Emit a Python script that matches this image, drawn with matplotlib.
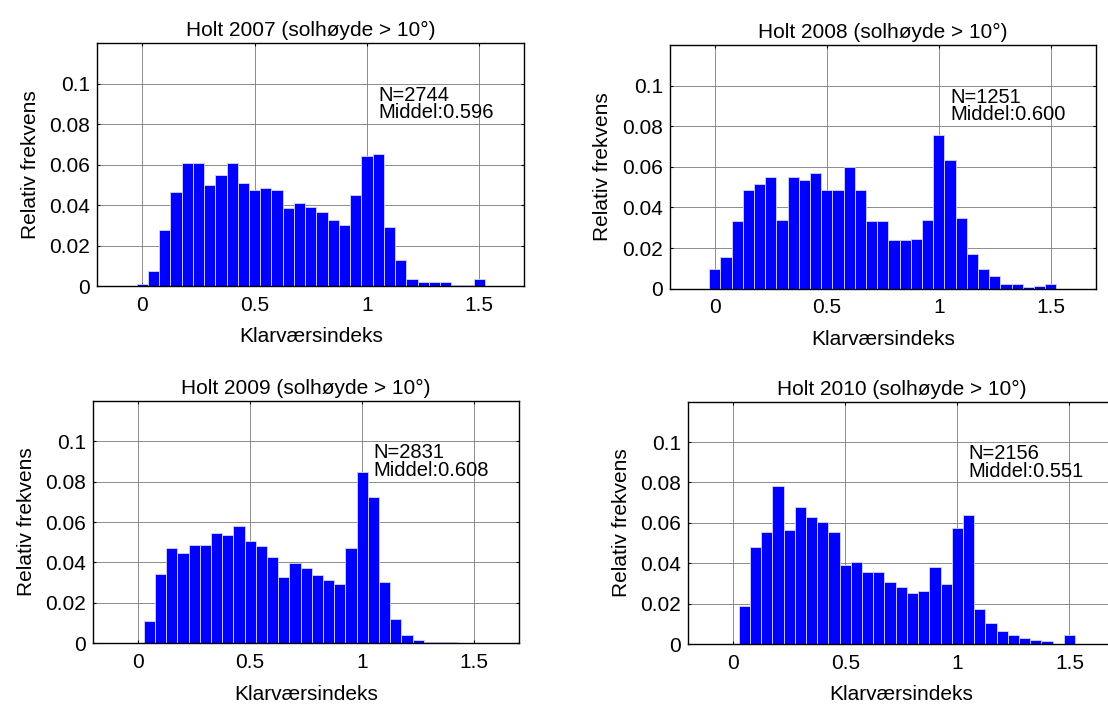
import matplotlib
matplotlib.use("Agg")
import matplotlib.pyplot as plt

plt.rcParams['font.family'] = ['Liberation Sans', 'DejaVu Sans']

klarhet = [0.00, 0.05, 0.10, 0.15, 0.20, 0.25, 0.30, 0.35, 0.40, 0.45,
           0.50, 0.55, 0.60, 0.65, 0.70, 0.75, 0.80, 0.85, 0.90, 0.95,
           1.00, 1.05, 1.10, 1.15, 1.20, 1.25, 1.30, 1.35, 1.40, 1.45, 1.50]

frek_2007 = [0.0010, 0.0075, 0.0275, 0.0467, 0.0608, 0.0608, 0.0500, 0.0551, 0.0608, 0.0508,
             0.0475, 0.0484, 0.0475, 0.0384, 0.0408, 0.0392, 0.0367, 0.0326, 0.0300, 0.0451,
             0.0643, 0.0651, 0.0292, 0.0128, 0.0036, 0.0018, 0.0018, 0.0018, 0.0007, 0.0007, 0.0036]

frek_2008 = [0.0099, 0.0156, 0.0331, 0.0484, 0.0515, 0.0549, 0.0339, 0.0549, 0.0533, 0.0569,
             0.0484, 0.0484, 0.0599, 0.0484, 0.0331, 0.0331, 0.0238, 0.0238, 0.0247, 0.0339,
             0.0757, 0.0632, 0.0347, 0.0171, 0.0099, 0.0062, 0.0021, 0.0021, 0.0007, 0.0015, 0.0021]

frek_2009 = [0.0000, 0.0111, 0.0345, 0.0471, 0.0446, 0.0488, 0.0488, 0.0545, 0.0537, 0.0580,
             0.0504, 0.0479, 0.0428, 0.0327, 0.0395, 0.0370, 0.0337, 0.0311, 0.0294, 0.0471,
             0.0848, 0.0722, 0.0302, 0.0119, 0.0043, 0.0017, 0.0004, 0.0004, 0.0004, 0.0000, 0.0000]

frek_2010 = [0.0000, 0.0188, 0.0481, 0.0555, 0.0781, 0.0563, 0.0680, 0.0631, 0.0606, 0.0555,
             0.0389, 0.0405, 0.0356, 0.0356, 0.0305, 0.0280, 0.0255, 0.0264, 0.0381, 0.0297,
             0.0573, 0.0639, 0.0171, 0.0104, 0.0063, 0.0046, 0.0030, 0.0021, 0.0013, 0.0000, 0.0046]

titler = ["Holt 2007 (solhøyde > 10°)", "Holt 2008 (solhøyde > 10°)",
          "Holt 2009 (solhøyde > 10°)", "Holt 2010 (solhøyde > 10°)"]
antall = [2744, 1251, 2831, 2156]
middel = [0.596, 0.600, 0.608, 0.551]
serier = [frek_2007, frek_2008, frek_2009, frek_2010]

x_ticks = [0, 0.5, 1, 1.5]
x_ticklabels = ["0", "0.5", "1", "1.5"]
y_ticks = [0, 0.02, 0.04, 0.06, 0.08, 0.1]
y_ticklabels = ["0", "0.02", "0.04", "0.06", "0.08", "0.1"]

fig = plt.figure(figsize=(11.08, 7.04), dpi=100)

W, H = 1108, 704
# pixel boxes: left, top, right, bottom
boxes = [(97.3, 43.3, 524.3, 286.0),
         (670.0, 45.0, 1095.5, 288.7),
         (93.3, 400.7, 519.0, 643.3),
         (688.3, 401.7, 1114.3, 644.0)]

FS = 15

for i, (l, t, r, b) in enumerate(boxes):
    ax = fig.add_axes([l / W, (H - b) / H, (r - l) / W, (b - t) / H])
    ax.bar(klarhet, serier[i], width=0.05, color='#0000ff',
           edgecolor='#d4d4ff', linewidth=0.6, zorder=2)
    ax.set_xlim(-0.2, 1.7)
    ax.set_ylim(0, 0.12)
    ax.set_xticks(x_ticks)
    ax.set_xticklabels(x_ticklabels)
    ax.set_yticks(y_ticks)
    ax.set_yticklabels(y_ticklabels)
    ax.set_axisbelow(True)
    ax.grid(True, color='#7a7a7a', linewidth=0.6, linestyle='-')
    ax.tick_params(direction='in', top=True, right=True, length=2.5,
                   width=0.8, labelsize=FS)
    ax.tick_params(axis='x', pad=7)
    ax.tick_params(axis='y', pad=5)
    for s in ax.spines.values():
        s.set_linewidth(1.0)
        s.set_color('black')
    ax.set_title(titler[i], fontsize=FS, pad=5)
    ax.set_xlabel("Klarværsindeks", fontsize=FS, labelpad=9)
    ax.set_ylabel("Relativ frekvens", fontsize=FS, labelpad=7)
    ax.text(1.05, 0.09, f"N={antall[i]}\nMiddel:{middel[i]:.3f}",
            fontsize=14.5, va='center', ha='left', linespacing=0.9, zorder=3)

fig.savefig("out.png", dpi=100)
